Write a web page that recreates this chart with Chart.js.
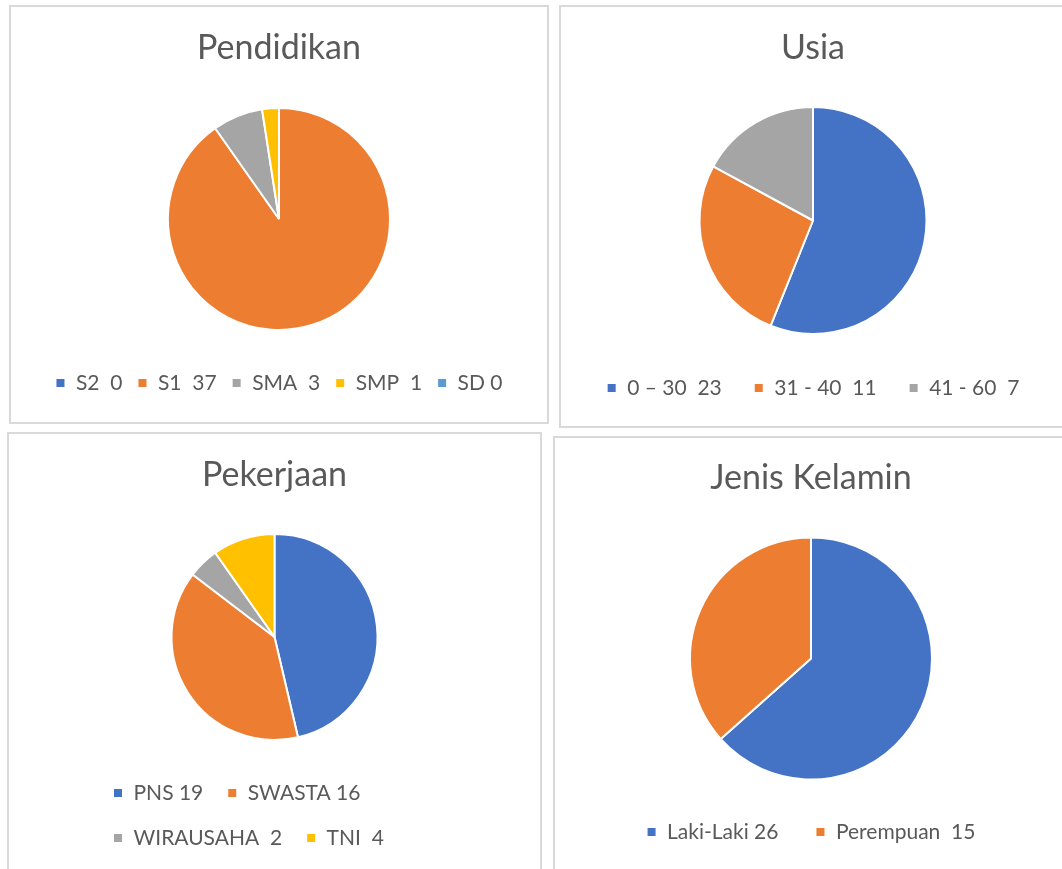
<!DOCTYPE html>
<html>
<head>
<meta charset="utf-8">
<script src="https://cdn.jsdelivr.net/npm/chart.js@4.4.1/dist/chart.umd.min.js"></script>
<style>
  html, body { margin: 0; padding: 0; background: #fff; overflow: hidden; }
  body { width: 1062px; height: 869px; position: relative; }
  .panel { position: absolute; border: 2px solid #d9d9d9; background: #fff; }
  .panel canvas { display: block; }
</style>
</head>
<body>
<div class="panel" style="left:9px;top:5px;width:536px;height:415px;"><canvas id="pendidikan" width="536" height="415"></canvas></div>
<div class="panel" style="left:559px;top:5px;width:504px;height:419px;"><canvas id="usia" width="504" height="419"></canvas></div>
<div class="panel" style="left:7px;top:432px;width:531px;height:446px;"><canvas id="pekerjaan" width="531" height="446"></canvas></div>
<div class="panel" style="left:553px;top:436px;width:512px;height:436px;"><canvas id="kelamin" width="512" height="436"></canvas></div>
<script>
// data
var pendidikanLabels = ["S2  0", "S1  37", "SMA  3", "SMP  1", "SD 0"];
var pendidikanValues = [0, 37, 3, 1, 0];

var usiaLabels = ["0 \u2013 30  23", "31 - 40  11", "41 - 60  7"];
var usiaValues = [23, 11, 7];

var pekerjaanLabels = ["PNS 19", "SWASTA 16", "WIRAUSAHA  2", "TNI  4"];
var pekerjaanValues = [19, 16, 2, 4];

var kelaminLabels = ["Laki-Laki 26", "Perempuan  15"];
var kelaminValues = [26, 15];

var colors = ["#4472C4", "#ED7D31", "#A5A5A5", "#FFC000", "#5B9BD5"];
var textColor = "#595959";
var titleSize = 34;
var legendSize = 21;

// lay out title / pie / legend so they land at the given y positions
function makePie(id, title, labels, values, pos) {
    var canvas = document.getElementById(id);
    var H = canvas.height;
    var titleLine = titleSize * 1.2;
    var titleTop = pos.titleY - titleLine / 2;
    var legendTop = pos.legendY - pos.legendPad - legendSize / 2;
    var legendHeight = pos.rows * (legendSize + pos.legendPad) + 10;
    var padBottom = H - legendTop - legendHeight;
    var chartTop = 2 * pos.pieY - legendTop;
    var titleBottom = chartTop - titleTop - titleLine;

    return new Chart(canvas, {
        type: "pie",
        data: {
            labels: labels,
            datasets: [{
                data: values,
                backgroundColor: colors.slice(0, values.length),
                borderColor: "#ffffff",
                borderWidth: 2,
                radius: pos.r
            }]
        },
        options: {
            responsive: false,
            animation: false,
            layout: {
                padding: { top: 0, bottom: padBottom, left: pos.side || 0, right: pos.side || 0 }
            },
            plugins: {
                title: {
                    display: true,
                    text: title,
                    color: textColor,
                    font: { family: "Lato", size: titleSize, weight: "normal" },
                    padding: { top: titleTop, bottom: titleBottom }
                },
                legend: {
                    position: "bottom",
                    align: pos.align || "center",
                    labels: {
                        color: textColor,
                        boxWidth: 10,
                        boxHeight: 10,
                        padding: pos.legendPad,
                        font: { family: "Lato", size: legendSize }
                    }
                },
                tooltip: { enabled: false }
            }
        }
    });
}

document.fonts.load("34px Lato").then(function () {
    makePie("pendidikan", "Pendidikan", pendidikanLabels, pendidikanValues,
        { titleY: 41.5, pieY: 212, r: 111, legendY: 376, legendPad: 15, rows: 1 });
    makePie("usia", "Usia", usiaLabels, usiaValues,
        { titleY: 41.5, pieY: 213.5, r: 113.5, legendY: 381, legendPad: 32, rows: 1 });
    makePie("pekerjaan", "Pekerjaan", pekerjaanLabels, pekerjaanValues,
        { titleY: 41, pieY: 203, r: 103, legendY: 359, legendPad: 24, rows: 2, align: "start", side: 80 });
    makePie("kelamin", "Jenis Kelamin", kelaminLabels, kelaminValues,
        { titleY: 40.5, pieY: 220.5, r: 121, legendY: 394, legendPad: 37, rows: 1 });
});
</script>
</body>
</html>
